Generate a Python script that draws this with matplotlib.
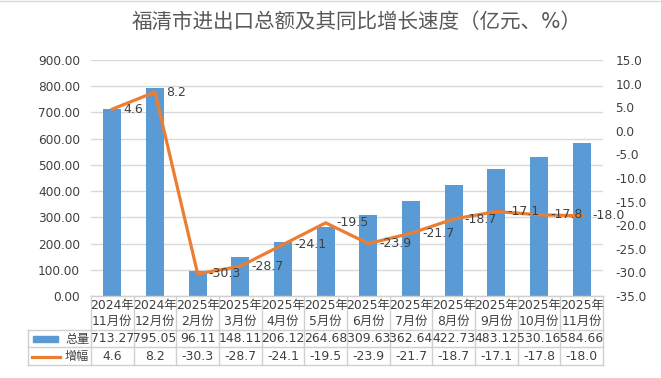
import matplotlib.pyplot as plt
import matplotlib.transforms as mtransforms
from matplotlib.patches import Rectangle
from matplotlib.lines import Line2D

plt.rcParams['font.family'] = ['DejaVu Sans', 'Noto Sans CJK SC']

# data
years = ['2024年', '2024年', '2025年', '2025年', '2025年', '2025年',
         '2025年', '2025年', '2025年', '2025年', '2025年', '2025年']
months = ['11月份', '12月份', '2月份', '3月份', '4月份', '5月份',
          '6月份', '7月份', '8月份', '9月份', '10月份', '11月份']
total = [713.27, 795.05, 96.11, 148.11, 206.12, 264.68,
         309.63, 362.64, 422.73, 483.12, 530.16, 584.66]
growth = [4.6, 8.2, -30.3, -28.7, -24.1, -19.5,
          -23.9, -21.7, -18.7, -17.1, -17.8, -18.0]

W, H = 661, 378
blue = '#5B9BD5'
orange = '#ED7D31'
txt = '#404040'
grid = '#D9D9D9'
fs = 8.9

fig = plt.figure(figsize=(W / 100, H / 100), dpi=100)

# plot area in pixels
left, right, top, bottom = 91, 603, 60, 296
ax = fig.add_axes([left / W, 1 - bottom / H, (right - left) / W, (bottom - top) / H])
ax2 = ax.twinx()

x = list(range(len(total)))
ax.bar(x, total, width=0.42, color=blue, zorder=2)
ax.set_xlim(-0.5, len(total) - 0.5)
ax.set_ylim(0, 900)
ax.set_yticks(range(0, 901, 100))
ax.set_yticklabels([f'{v:.2f}' for v in range(0, 901, 100)])
ax.yaxis.grid(True, color=grid, linewidth=1)
ax.set_axisbelow(True)
ax.set_xticks([])

ax2.plot(x, growth, color=orange, linewidth=2.3, zorder=3)
ax2.set_ylim(-35, 15)
ax2.set_yticks(range(-35, 16, 5))
ax2.set_yticklabels([f'{v:.1f}' for v in range(-35, 16, 5)])
for xi, g in zip(x, growth):
    ax2.annotate(f'{g:.1f}', (xi, g), xytext=(8, 0), textcoords='offset points',
                 ha='left', va='center', fontsize=9, color=txt,
                 annotation_clip=False)

for a in (ax, ax2):
    for s in a.spines.values():
        s.set_visible(False)
    a.tick_params(length=0, labelsize=8.7, labelcolor=txt)
ax.tick_params(axis='y', pad=8)
ax2.tick_params(axis='y', pad=9)

# table under the chart
tr = mtransforms.blended_transform_factory(ax.transData, ax.transAxes)
ph = bottom - top
def ay(py):
    return (bottom - py) / ph

line_kw = dict(color='#D0D0D0', linewidth=1, transform=tr, clip_on=False)
y_head = ay(330)
y_mid = ay(347)
y_bot = ay(365)
x_leg = -0.5 - (91 - 28) / ((right - left) / len(total))

ax.add_line(Line2D([-0.5, len(total) - 0.5], [0, 0], **line_kw))
for i in range(len(total) + 1):
    ax.add_line(Line2D([i - 0.5, i - 0.5], [0, y_bot], **line_kw))
ax.add_line(Line2D([x_leg, x_leg], [y_head, y_bot], **line_kw))
for yy in (y_head, y_mid, y_bot):
    ax.add_line(Line2D([x_leg, len(total) - 0.5], [yy, yy], **line_kw))

for xi in x:
    ax.text(xi, ay(305), years[xi], transform=tr, ha='center', va='center',
            fontsize=fs, color=txt)
    ax.text(xi, ay(321), months[xi], transform=tr, ha='center', va='center',
            fontsize=fs, color=txt)
    ax.text(xi, ay(339), f'{total[xi]:.2f}', transform=tr, ha='center', va='center',
            fontsize=fs, color=txt)
    ax.text(xi, ay(356.5), f'{growth[xi]:.1f}', transform=tr, ha='center', va='center',
            fontsize=fs, color=txt)

# legend keys inside the table
ftr = fig.transFigure
fig.patches.append(Rectangle((33 / W, 1 - 341.5 / H), 25 / W, 5.5 / H,
                             color=blue, transform=ftr))
fig.lines.append(Line2D([32 / W, 60 / W], [1 - 356.5 / H, 1 - 356.5 / H],
                        color=orange, linewidth=2.3, transform=ftr))
fig.text(65 / W, 1 - 339 / H, '总量', fontsize=8.7, color=txt, va='center')
fig.text(65 / W, 1 - 356.5 / H, '增幅', fontsize=8.7, color=txt, va='center')

# faint spreadsheet border at the top
fig.lines.append(Line2D([0, 1], [1 - 1 / H, 1 - 1 / H], color='#D9D9D9',
                        linewidth=1, transform=ftr))

fig.text(357 / W, 1 - 22 / H, '福清市进出口总额及其同比增长速度（亿元、%）',
         ha='center', va='center', fontsize=14.8, color='#595959')

fig.savefig('out.png', dpi=100)
